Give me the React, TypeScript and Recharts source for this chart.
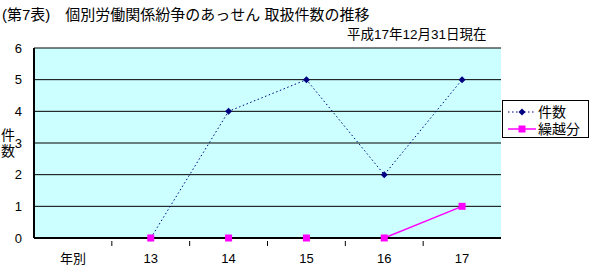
import {
    LineChart,
    Line,
    XAxis,
    YAxis,
    CartesianGrid,
} from "recharts";

const years = ["年別", "13", "14", "15", "16", "17"];
const cases = [null, 0, 4, 5, 2, 5];
const carried = [null, 0, 0, 0, 0, 1];
const yTicks = [0, 1, 2, 3, 4, 5, 6];

const data = years.map((year, i) => ({ year, cases: cases[i], carried: carried[i] }));

const W = 590;
const H = 268;
const PLOT_LEFT = 34;
const PLOT_RIGHT = 501;
const BAND = (PLOT_RIGHT - PLOT_LEFT) / years.length;
const FONT = "'Liberation Sans', 'Noto Sans CJK JP', sans-serif";

const Diamond = ({ cx, cy }: any) => {
    if (cx == null || cy == null) return null;
    return <polygon points={`${cx},${cy - 3.5} ${cx + 3.5},${cy} ${cx},${cy + 3.5} ${cx - 3.5},${cy}`} fill="#000080" />;
};

const Square = ({ cx, cy }: any) => {
    if (cx == null || cy == null) return null;
    return <rect x={cx - 3.5} y={cy - 3.5} width={7} height={7} fill="#FF00FF" />;
};

const XTick = ({ x, y, payload, index }: any) => (
    <g>
        {index < years.length - 1 && (
            <line x1={x + BAND / 2} x2={x + BAND / 2} y1={y - 5} y2={y} stroke="#000" strokeWidth={1} />
        )}
        <text x={x} y={y + 17} textAnchor="middle" fontSize={13} fill="#000" fontFamily={FONT}>
            {payload.value}
        </text>
    </g>
);

// legend drawn as a box next to the plot
const LegendBox = () => (
    <div
        style={{
            position: "absolute",
            left: 502,
            top: 100,
            border: "1px solid #000",
            background: "#fff",
            width: 85,
            height: 36,
            fontFamily: FONT,
            fontSize: 14,
            color: "#000",
        }}
    >
        <svg width={85} height={36} style={{ display: "block" }}>
            <line x1={5} x2={33} y1={11} y2={11} stroke="#000080" strokeDasharray="1.5 2.5" />
            <polygon points="19,7.5 22.5,11 19,14.5 15.5,11" fill="#000080" />
            <text x={35} y={16} fontSize={14} fontFamily={FONT}>件数</text>
            <line x1={5} x2={33} y1={28} y2={28} stroke="#FF00FF" strokeWidth={1.5} />
            <rect x={15.5} y={24.5} width={7} height={7} fill="#FF00FF" />
            <text x={35} y={33} fontSize={14} fontFamily={FONT}>繰越分</text>
        </svg>
    </div>
);

export default function App() {
    return (
        <div style={{ position: "absolute", left: 0, top: 0, width: W, height: H, background: "#fff", fontFamily: FONT }}>
            <div style={{ position: "absolute", left: 2, top: 3, fontSize: 15, whiteSpace: "pre" }}>
                {"(第7表)　個別労働関係紛争のあっせん 取扱件数の推移"}
            </div>
            <div style={{ position: "absolute", left: 347, top: 23, fontSize: 13.5, whiteSpace: "pre" }}>
                平成17年12月31日現在
            </div>
            <div style={{ position: "absolute", left: 1, top: 127, fontSize: 14, lineHeight: "16px", width: 14 }}>
                件<br />数
            </div>
            <LineChart
                width={W}
                height={H}
                data={data}
                margin={{ top: 48, right: W - PLOT_RIGHT, left: 0, bottom: 0 }}
            >
                <CartesianGrid
                    vertical={false}
                    stroke="#000"
                    strokeWidth={1}
                    fill="#CCFFFF"
                    fillOpacity={1}
                />
                <XAxis
                    dataKey="year"
                    scale="band"
                    height={30}
                    tickLine={false}
                    axisLine={{ stroke: "#000", strokeWidth: 2 }}
                    tick={<XTick />}
                    interval={0}
                />
                <YAxis
                    width={PLOT_LEFT}
                    domain={[0, 6]}
                    ticks={yTicks}
                    tickLine={false}
                    axisLine={{ stroke: "#000", strokeWidth: 2 }}
                    tick={{ fontSize: 13, fill: "#000", fontFamily: FONT, dx: -4 }}
                />
                <YAxis
                    yAxisId="right"
                    orientation="right"
                    width={0}
                    tick={false}
                    tickLine={false}
                    axisLine={{ stroke: "#808080", strokeWidth: 1 }}
                />
                <Line
                    dataKey="cases"
                    stroke="#000080"
                    strokeWidth={1}
                    strokeDasharray="1.5 2.5"
                    dot={<Diamond />}
                    activeDot={false}
                    isAnimationActive={false}
                />
                <Line
                    dataKey="carried"
                    stroke="#FF00FF"
                    strokeWidth={1.5}
                    dot={<Square />}
                    activeDot={false}
                    isAnimationActive={false}
                />
            </LineChart>
            <LegendBox />
        </div>
    );
}
